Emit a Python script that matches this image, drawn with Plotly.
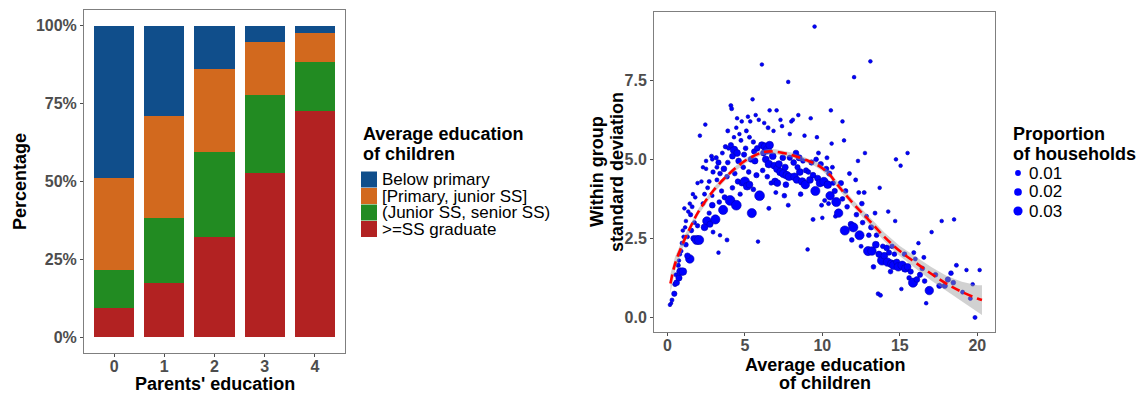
import plotly.graph_objects as go
import numpy as np

# ---------------- Data: left panel (stacked percentages) ----------------
parents_edu = ["0", "1", "2", "3", "4"]
ss_graduate = [9.4, 17.6, 32.3, 52.8, 72.6]          # >=SS graduate
junior_senior = [12.3, 20.8, 27.2, 24.8, 15.8]       # (Junior SS, senior SS)
primary_junior = [29.4, 32.6, 26.7, 17.2, 9.3]       # [Primary, junior SS]
below_primary = [48.9, 29.0, 13.8, 5.2, 2.3]         # Below primary
bar_names = ["Below primary", "[Primary, junior SS]", "(Junior SS, senior SS)", ">=SS graduate"]
bar_colors = ["#104E8B", "#D2691E", "#228B22", "#B22222"]
y_tickvals = [0, 25, 50, 75, 100]
y_ticktext = ["0%", "25%", "50%", "75%", "100%"]

# ---------------- Data: right panel (scatter of groups) ----------------
avg_edu = [
    0.17, 0.25, 0.3, 0.45, 0.5, 0.6, 0.55, 0.75, 0.85, 1.0, 0.7, 0.8, 0.9, 0.95, 1.05, 1.0, 0.75,
    1.45, 1.3, 1.2, 1.3, 1.15, 1.2, 1.35, 1.1, 1.45, 1.5, 1.55, 1.7, 1.75, 1.9, 2.05, 1.8, 1.65, 1.95, 1.95, 1.6,
    2.1, 2.45, 2.3, 2.5, 2.7, 2.2, 2.4, 2.3, 2.55, 2.4, 2.75, 2.9, 2.95, 2.6, 2.85, 2.9, 2.95, 2.7, 2.5, 2.9,
    3.1, 3.3, 3.15, 3.3, 3.4, 3.2, 3.5, 3.6, 3.7, 3.55, 3.75, 3.9, 3.85, 3.85, 3.4, 3.95, 3.2, 3.65, 3.35, 3.9,
    4.1, 4.15, 4.05, 4.45, 4.3, 4.1, 4.5, 4.2, 4.6, 4.35, 4.55, 4.8, 4.9, 4.5, 4.8, 4.65, 4.75, 4.3, 4.2, 4.7, 4.95, 4.45,
    5.0, 5.15, 5.3, 5.45, 5.5, 5.2, 5.35, 5.1, 5.3, 5.55, 5.6, 5.8, 5.4, 5.65, 5.25, 5.75, 5.85, 5.95, 5.7, 5.9, 5.55, 5.05,
    6.1, 6.1, 6.3, 6.45, 6.6, 6.2, 6.35, 6.55, 6.8, 6.9, 6.5, 6.55, 6.45, 6.15, 6.7, 6.25, 6.85, 6.95, 6.6,
    7.05, 7.3, 7.4, 7.8, 7.1, 7.3, 7.5, 7.7, 7.85, 7.2, 7.6, 7.45, 7.9, 7.55, 7.8, 7.1, 7.65, 7.0, 7.9, 8.0,
    8.1, 8.45, 8.85, 8.2, 8.35, 8.55, 8.7, 8.9, 8.5, 8.3, 8.75, 8.15, 8.6, 8.95, 8.4,
    9.05, 9.25, 9.5, 9.65, 9.55, 9.2, 9.4, 9.7, 9.85, 9.3, 9.6, 9.9, 9.4, 9.75, 9.1, 9.95,
    10.0, 10.55, 10.6, 10.1, 10.35, 10.5, 10.25, 10.45, 10.7, 10.8, 10.9, 10.15, 10.65, 10.3, 10.85, 10.4,
    11.3, 11.4, 11.05, 11.45, 11.2, 11.5, 11.75, 11.6, 11.85, 11.3, 11.9,
    12.05, 12.15, 12.3, 12.75, 12.0, 12.4, 12.2, 12.55, 12.7, 12.85, 12.5, 12.95, 12.6, 12.35,
    13.1, 13.2, 13.45, 13.3, 13.6, 13.75, 13.7, 13.5, 13.85, 13.65, 13.9, 13.15, 13.4, 13.0, 14.0,
    14.25, 14.7, 14.75, 14.2, 14.45, 14.6, 14.3, 14.5, 14.8, 14.9, 14.15, 14.65, 14.4,
    15.05, 15.5, 15.1, 15.15, 15.35, 15.5, 15.3, 15.6, 15.85, 15.7, 16.0, 15.9,
    16.2, 16.3, 16.45, 16.1, 16.6, 16.7, 16.9, 17.05, 16.55,
    17.3, 17.55, 17.7, 17.9, 18.1, 18.3, 18.5, 18.65, 18.45, 19.05, 19.3, 19.55, 19.85, 20.15, 19.7,
]
within_sd = [
    0.40, 0.45, 0.55, 0.75, 1.05, 1.1, 1.35, 1.25, 1.45, 1.45, 1.65, 2.0, 2.1, 2.35, 2.55, 2.75, 1.8,
    1.85, 1.95, 2.3, 2.55, 2.85, 3.05, 3.35, 3.45, 3.6, 3.25, 2.75, 2.5, 3.0, 2.45, 2.45, 3.8, 3.9, 4.25, 2.9, 3.5,
    5.75, 6.1, 4.75, 4.7, 4.3, 4.3, 3.9, 3.6, 3.05, 2.85, 2.95, 3.55, 4.6, 4.1, 5.1, 5.0, 2.7, 3.3, 4.95, 3.85,
    3.1, 2.05, 5.05, 4.9, 4.55, 4.35, 4.0, 3.4, 3.8, 5.2, 5.4, 4.9, 4.45, 2.45, 2.6, 5.35, 4.75, 4.7, 3.65, 5.9,
    6.7, 6.6, 3.7, 3.55, 5.3, 5.45, 5.2, 5.1, 4.95, 4.55, 4.3, 4.25, 4.75, 6.3, 6.2, 5.8, 5.6, 5.7, 4.1, 3.9, 5.15, 6.0,
    4.3, 4.15, 4.2, 3.3, 6.9, 6.35, 6.2, 5.9, 5.7, 5.55, 5.25, 5.35, 5.0, 4.95, 4.6, 4.5, 2.4, 3.85, 6.4, 6.25, 4.05, 5.35,
    8.0, 5.45, 5.4, 5.3, 5.45, 5.2, 5.0, 4.85, 5.1, 4.8, 6.0, 3.45, 4.45, 4.65, 4.25, 6.15, 5.9, 4.3, 6.55,
    6.55, 6.25, 6.05, 7.45, 4.7, 4.6, 4.55, 4.5, 4.45, 4.85, 4.75, 5.05, 5.05, 3.85, 3.55, 4.25, 4.2, 3.95, 5.8, 6.2,
    6.25, 6.4, 5.75, 4.45, 4.35, 4.6, 4.3, 4.2, 5.05, 5.2, 4.95, 4.9, 3.9, 4.65, 4.75,
    2.15, 6.3, 9.2, 5.7, 4.0, 4.35, 4.5, 4.4, 4.25, 4.9, 5.0, 4.85, 3.1, 5.2, 4.6, 3.55,
    3.15, 6.55, 5.5, 4.3, 4.2, 3.85, 4.7, 4.55, 4.25, 4.0, 3.65, 3.7, 4.75, 5.05, 3.2, 3.6,
    6.2, 5.6, 3.3, 2.75, 4.25, 4.0, 4.55, 3.5, 2.95, 3.75, 2.45,
    7.6, 4.35, 4.95, 5.2, 2.85, 2.6, 3.25, 3.6, 3.95, 3.2, 2.25, 2.1, 3.0, 3.95,
    8.1, 2.1, 2.3, 1.6, 0.75, 0.7, 4.1, 2.6, 1.8, 2.0, 2.25, 2.85, 3.3, 2.6, 1.95,
    3.35, 3.05, 5.0, 1.75, 1.7, 1.65, 2.05, 2.25, 1.75, 1.6, 2.2, 2.0, 1.45,
    4.8, 5.2, 0.9, 1.65, 1.55, 1.6, 2.0, 1.25, 1.1, 1.45, 1.85, 2.05,
    2.35, 1.35, 1.55, 1.2, 1.15, 0.45, 0.85, 2.7, 1.9,
    1.35, 1.0, 3.05, 1.0, 1.2, 1.4, 3.1, 1.65, 1.1, 0.8, 1.5, 0.6, 0.0, 1.5, 1.05,
]
prop_households = [
    0.003, 0.002, 0.004, 0.008, 0.006, 0.01, 0.004, 0.012, 0.02, 0.02, 0.005, 0.004, 0.003, 0.004, 0.003, 0.003, 0.003,
    0.025, 0.01, 0.006, 0.004, 0.003, 0.003, 0.003, 0.003, 0.003, 0.005, 0.006, 0.01, 0.004, 0.03, 0.03, 0.003, 0.003, 0.003, 0.005, 0.004,
    0.003, 0.003, 0.003, 0.003, 0.004, 0.003, 0.004, 0.004, 0.025, 0.015, 0.012, 0.01, 0.005, 0.004, 0.004, 0.003, 0.004, 0.005, 0.003, 0.003,
    0.03, 0.003, 0.005, 0.008, 0.006, 0.004, 0.005, 0.03, 0.008, 0.004, 0.005, 0.006, 0.006, 0.004, 0.003, 0.004, 0.004, 0.01, 0.006, 0.004,
    0.004, 0.004, 0.035, 0.035, 0.02, 0.008, 0.015, 0.01, 0.01, 0.006, 0.008, 0.01, 0.006, 0.003, 0.003, 0.003, 0.004, 0.003, 0.006, 0.005, 0.008, 0.003,
    0.03, 0.02, 0.015, 0.03, 0.003, 0.003, 0.003, 0.004, 0.004, 0.005, 0.008, 0.01, 0.01, 0.012, 0.006, 0.008, 0.003, 0.035, 0.003, 0.003, 0.006, 0.006,
    0.003, 0.015, 0.02, 0.025, 0.02, 0.01, 0.015, 0.02, 0.015, 0.015, 0.004, 0.004, 0.006, 0.006, 0.005, 0.003, 0.003, 0.015, 0.003,
    0.003, 0.003, 0.003, 0.003, 0.02, 0.02, 0.025, 0.02, 0.02, 0.015, 0.012, 0.01, 0.008, 0.006, 0.004, 0.015, 0.01, 0.004, 0.003, 0.003,
    0.003, 0.003, 0.003, 0.02, 0.015, 0.015, 0.02, 0.025, 0.012, 0.01, 0.006, 0.01, 0.006, 0.008, 0.008,
    0.003, 0.003, 0.003, 0.003, 0.03, 0.015, 0.01, 0.012, 0.02, 0.008, 0.006, 0.008, 0.004, 0.004, 0.006, 0.004,
    0.003, 0.003, 0.003, 0.025, 0.02, 0.025, 0.008, 0.008, 0.006, 0.008, 0.03, 0.004, 0.004, 0.004, 0.004, 0.004,
    0.003, 0.003, 0.025, 0.03, 0.008, 0.006, 0.004, 0.006, 0.01, 0.006, 0.006,
    0.003, 0.004, 0.003, 0.003, 0.03, 0.03, 0.006, 0.006, 0.004, 0.004, 0.004, 0.03, 0.006, 0.004,
    0.003, 0.025, 0.015, 0.006, 0.004, 0.004, 0.003, 0.006, 0.03, 0.012, 0.006, 0.008, 0.004, 0.006, 0.015,
    0.003, 0.003, 0.003, 0.025, 0.02, 0.025, 0.008, 0.006, 0.012, 0.025, 0.01, 0.006, 0.006,
    0.003, 0.003, 0.003, 0.025, 0.02, 0.015, 0.006, 0.006, 0.03, 0.008, 0.004, 0.004,
    0.003, 0.008, 0.006, 0.01, 0.006, 0.003, 0.025, 0.003, 0.004,
    0.006, 0.008, 0.003, 0.008, 0.008, 0.006, 0.003, 0.004, 0.006, 0.004, 0.003, 0.004, 0.004, 0.003, 0.003,
]

# loess fit
smooth_x = [0.2, 0.5, 1, 1.5, 2, 3, 4, 5, 6, 6.5, 7, 8, 9, 9.5, 10, 10.5, 11, 12, 13, 14, 15, 16, 17, 18, 19, 20, 20.3]
smooth_y = [1.07, 1.7, 2.34, 2.87, 3.34, 4.03, 4.55, 4.95, 5.2, 5.25, 5.24, 5.14, 4.97, 4.87, 4.72, 4.5, 4.18, 3.6, 3.08, 2.55, 2.1, 1.74, 1.39, 1.07, 0.81, 0.6, 0.55]
smooth_se = [0.3, 0.22, 0.15, 0.12, 0.1, 0.09, 0.08, 0.08, 0.08, 0.08, 0.08, 0.08, 0.08, 0.08, 0.09, 0.09, 0.1, 0.11, 0.12, 0.14, 0.16, 0.18, 0.21, 0.25, 0.32, 0.42, 0.47]

legend_props = [0.01, 0.02, 0.03]
legend_prop_labels = ["0.01", "0.02", "0.03"]

# ---------------- geometry helpers ----------------
W, H = 1140, 393
FONT = "Liberation Sans, Arial, Helvetica, sans-serif"


def px(x):
    return x / W


def py(y):
    return 1 - y / H


def diam(p):
    return 1.2 + 46 * np.sqrt(np.asarray(p))


fig = go.Figure()

# stacked bars (bottom to top)
for vals, name, col in [(ss_graduate, bar_names[3], bar_colors[3]),
                        (junior_senior, bar_names[2], bar_colors[2]),
                        (primary_junior, bar_names[1], bar_colors[1]),
                        (below_primary, bar_names[0], bar_colors[0])]:
    fig.add_trace(go.Bar(x=parents_edu, y=vals, name=name, marker=dict(color=col, line=dict(width=0)),
                         showlegend=False, xaxis="x", yaxis="y"))

# scatter
fig.add_trace(go.Scatter(x=avg_edu, y=within_sd, mode="markers",
                         marker=dict(color="#0000FF", size=diam(prop_households), opacity=1,
                                     line=dict(width=0.6, color="#0000B0")),
                         showlegend=False, xaxis="x2", yaxis="y2"))

# ribbon + smooth
sx = np.array(smooth_x)
sy = np.array(smooth_y)
se = np.array(smooth_se)
fig.add_trace(go.Scatter(x=np.concatenate([sx, sx[::-1]]), y=np.concatenate([sy + se, (sy - se)[::-1]]),
                         fill="toself", fillcolor="rgba(153,153,153,0.45)", line=dict(width=0),
                         mode="lines", showlegend=False, hoverinfo="skip", xaxis="x2", yaxis="y2"))
fig.add_trace(go.Scatter(x=sx, y=sy, mode="lines", line=dict(color="#FF0000", width=2.6, dash="9px,5px", shape="spline"),
                         showlegend=False, xaxis="x2", yaxis="y2"))

tickfont = dict(family=FONT, size=16, color="#4D4D4D", weight="bold")
axis_common = dict(showgrid=False, zeroline=False, showline=True, mirror=True, linecolor="#7F7F7F", linewidth=1,
                   ticks="outside", ticklen=3, tickcolor="#4D4D4D", tickwidth=1, tickfont=tickfont)

fig.update_layout(
    width=W, height=H, margin=dict(l=0, r=0, t=0, b=0),
    paper_bgcolor="white", plot_bgcolor="white",
    barmode="stack", bargap=0.2,
    xaxis=dict(domain=[px(84), px(345)], anchor="y", range=[-0.6, 4.6], type="category",
               ticklabelstandoff=-4, **axis_common),
    yaxis=dict(domain=[py(353), py(10)], anchor="x", range=[-5, 105], tickvals=y_tickvals, ticktext=y_ticktext,
               **axis_common),
    xaxis2=dict(domain=[px(654), px(995)], anchor="y2", range=[-0.86, 21.14], tickvals=[0, 5, 10, 15, 20],
                ticklabelstandoff=-4, **axis_common),
    yaxis2=dict(domain=[py(332), py(12)], anchor="x2", range=[-0.46, 9.66], tickvals=[0, 2.5, 5, 7.5],
                ticktext=["0.0", "2.5", "5.0", "7.5"], **axis_common),
    font=dict(family=FONT),
)

ann = []
title_font = dict(family=FONT, size=18, color="black")


def text(x, y, s, font=title_font, angle=0, xanchor="center"):
    ann.append(dict(x=px(x), y=py(y), text=s, showarrow=False, xref="paper", yref="paper", font=font,
                    textangle=angle, xanchor=xanchor, yanchor="middle"))


# left panel axis titles
text(214.5, 384, "<b>Parents' education</b>")
text(20, 182, "<b>Percentage</b>", angle=-90)
# right panel axis titles
text(824.5, 365, "<b>Average education</b>")
text(824.5, 383, "<b>of children</b>")
text(597, 172, "<b>Within group</b>", angle=-90)
text(617, 172, "<b>standard deviation</b>", angle=-90)

# left legend (manual)
text(361, 134, "<b>Average education</b>", xanchor="left")
text(361, 154, "<b>of children</b>", xanchor="left")
shapes = []
key_y = [179.5, 196, 212.5, 229]
item_font = dict(family=FONT, size=17, color="black")
for i, (nm, col) in enumerate(zip(bar_names, bar_colors)):
    yc = key_y[i]
    shapes.append(dict(type="rect", xref="paper", yref="paper", x0=px(361), x1=px(377), y0=py(yc - 8), y1=py(yc + 8),
                       fillcolor=col, line=dict(width=0)))
    text(380, yc, nm, font=item_font, xanchor="left")

# right legend (manual)
text(1011, 134, "<b>Proportion</b>", xanchor="left")
text(1011, 154, "<b>of households</b>", xanchor="left")
leg_y = [173, 192, 211]
for i, (p, lab) in enumerate(zip(legend_props, legend_prop_labels)):
    yc = leg_y[i]
    d = float(diam(p))
    shapes.append(dict(type="circle", xref="paper", yref="paper", x0=px(1018 - d / 2), x1=px(1018 + d / 2),
                       y0=py(yc + d / 2), y1=py(yc - d / 2), fillcolor="#0000FF", line=dict(width=0)))
    text(1027, yc, lab, font=item_font, xanchor="left")

fig.update_layout(annotations=ann, shapes=shapes)
fig.write_html("out.html")
